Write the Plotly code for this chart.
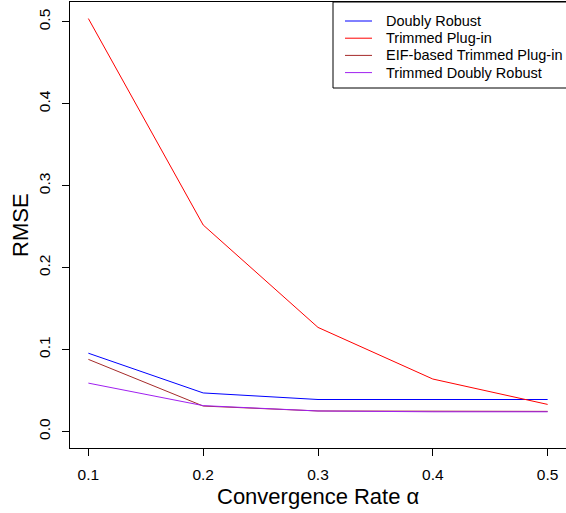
import plotly.graph_objects as go

alpha = [0.1, 0.2, 0.3, 0.4, 0.5]
tick_labels_x = ["0.1", "0.2", "0.3", "0.4", "0.5"]
y_ticks = [0.0, 0.1, 0.2, 0.3, 0.4, 0.5]
y_tick_labels = ["0.0", "0.1", "0.2", "0.3", "0.4", "0.5"]

doubly_robust = [0.0955, 0.047, 0.039, 0.039, 0.039]
trimmed_plugin = [0.504, 0.252, 0.127, 0.064, 0.033]
eif_trimmed_plugin = [0.088, 0.031, 0.025, 0.0245, 0.0245]
trimmed_doubly_robust = [0.059, 0.0315, 0.025, 0.024, 0.024]

series = [
    ("Doubly Robust", doubly_robust, "#0000FF"),
    ("Trimmed Plug-in", trimmed_plugin, "#FF0000"),
    ("EIF-based Trimmed Plug-in", eif_trimmed_plugin, "#A52A2A"),
    ("Trimmed Doubly Robust", trimmed_doubly_robust, "#A020F0"),
]

W, H = 566, 513
ML, MR, MT, MB = 70, 0, 2, 65
PW, PH = W - ML - MR, H - MT - MB

def px_x(px):
    return (px - ML) / PW

def px_y(py):
    return (H - MB - py) / PH

fig = go.Figure()
for name, vals, col in series:
    fig.add_trace(go.Scatter(x=alpha, y=vals, mode="lines", name=name,
                             showlegend=False, hoverinfo="skip",
                             line=dict(color=col, width=1)))

font = "Liberation Sans, Arial, sans-serif"

# custom legend box (matches base-R legend)
shapes = [dict(type="rect", xref="paper", yref="paper",
               x0=px_x(333), x1=px_x(567), y0=px_y(88), y1=px_y(2),
               line=dict(color="black", width=1), fillcolor="white", layer="above")]
annotations = []
row0, step = 21, 17.2
for i, (name, vals, col) in enumerate(series):
    yy = px_y(row0 + i * step)
    shapes.append(dict(type="line", xref="paper", yref="paper",
                       x0=px_x(345), x1=px_x(372), y0=yy, y1=yy,
                       line=dict(color=col, width=1), layer="above"))
    annotations.append(dict(xref="paper", yref="paper", x=px_x(384), y=yy,
                            text=name, showarrow=False, xanchor="left",
                            yanchor="middle", font=dict(size=14.5)))

annotations.append(dict(xref="paper", yref="paper", x=0.5, y=px_y(496),
                        text="Convergence Rate α", showarrow=False,
                        xanchor="center", yanchor="middle", font=dict(size=22)))
annotations.append(dict(xref="paper", yref="paper", x=px_x(20), y=0.5,
                        text="RMSE", showarrow=False, textangle=-90,
                        xanchor="center", yanchor="middle", font=dict(size=22)))

fig.update_layout(
    width=W, height=H,
    margin=dict(l=ML, r=MR, t=MT, b=MB, autoexpand=False),
    paper_bgcolor="white", plot_bgcolor="white",
    font=dict(family=font, color="black", size=15),
    showlegend=False, hovermode=False,
    shapes=shapes, annotations=annotations,
    xaxis=dict(range=[0.084, 0.516], tickvals=alpha, ticktext=tick_labels_x,
               automargin=False, ticklabelstandoff=5,
               showgrid=False, zeroline=False, showline=True, mirror=True,
               linecolor="black", linewidth=1, ticks="outside", ticklen=7,
               tickcolor="black", tickfont=dict(size=15.5)),
    yaxis=dict(range=[-0.0202, 0.5242], tickvals=y_ticks, ticktext=y_tick_labels,
               tickangle=-90, automargin=False, ticklabelstandoff=6,
               showgrid=False, zeroline=False, showline=True, mirror=True,
               linecolor="black", linewidth=1, ticks="outside", ticklen=7,
               tickcolor="black", tickfont=dict(size=15.5)),
)

fig.write_html("out.html",
               config={"displayModeBar": False, "staticPlot": True},
               post_script="document.body.style.margin='0px';document.body.style.overflow='hidden';")
